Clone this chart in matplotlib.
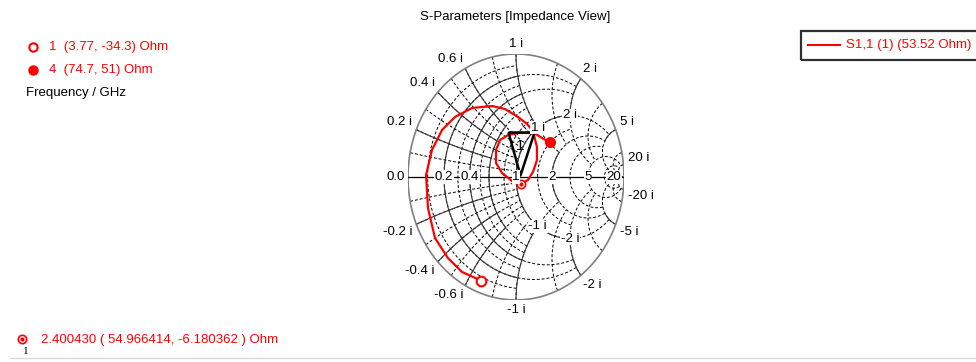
import numpy as np
import matplotlib
matplotlib.use("Agg")
import matplotlib.pyplot as plt
from matplotlib.lines import Line2D
from matplotlib.patches import Rectangle

plt.rcParams['font.family'] = ['Liberation Sans', 'DejaVu Sans']

W, H = 976, 362
RED = '#ff0000'
Z0 = 50.0

# S1,1 trace as reflection coefficient, 1 GHz -> 4 GHz
trace_re = [-0.322, -0.500, -0.630, -0.750, -0.815, -0.833, -0.778, -0.685, -0.565,
            -0.407, -0.222, -0.102, 0.019, 0.102, 0.157, 0.194, 0.194, 0.157, 0.111,
            0.051, -0.037, -0.130, -0.185, -0.185, -0.148, -0.074, 0.019, 0.167,
            0.241, 0.313]
trace_im = [-0.843, -0.772, -0.659, -0.496, -0.252, 0.016, 0.220, 0.382, 0.488,
            0.561, 0.577, 0.553, 0.488, 0.431, 0.374, 0.244, 0.138, 0.041, -0.024,
            -0.056, -0.033, 0.033, 0.114, 0.220, 0.301, 0.341, 0.358, 0.358,
            0.317, 0.281]

# markers (frequency in GHz, impedance in Ohm)
marker_ids = ['1', '4']
marker_r = [3.77, 74.7]
marker_x = [-34.3, 51]
probe_freq = 2.400430
probe_r = 54.966414
probe_x = -6.180362

# grid: (value, dashed up to, solid up to)
r_lines = [(0.1, 1, 0), (0.2, 2, 1), (0.3, 1, 0), (0.4, 2, 1), (0.5, 1, 0),
           (0.6, 1, 0.6), (0.8, 1, 0), (1, 5, 2), (1.5, 2, 0), (2, 5, 1),
           (3, 5, 0), (5, 20, 0), (10, 20, 0), (20, 20, 2)]
x_lines = [(0.1, 1, 0), (0.2, 1, 0.6), (0.3, 1, 0), (0.4, 1, 0.6), (0.5, 1, 0),
           (0.6, 1, 0.6), (0.8, 1, 0), (1, 2, 1), (1.5, 2, 0), (2, 5, 1),
           (3, 5, 0), (5, 20, 2), (10, 20, 0), (20, 1e4, 5)]

outer_labels = [0.2, 0.4, 0.6, 1, 2, 5, 20]
axis_labels = ['0.2', '0.4', '1', '2', '5', '20']
inner_labels = [1, 2]


def z2g(z):
    return (z - 1) / (z + 1)


fig = plt.figure(figsize=(W / 100, H / 100), dpi=100)
ax = fig.add_axes([408 / W, 1 - 300 / H, 216 / W, 246 / H])
ax.set_xlim(-1, 1)
ax.set_ylim(-1, 1)
ax.axis('off')

solid = dict(color='#3a3a3a', lw=0.8)
dashed = dict(color='black', lw=0.7, ls=(0, (3, 2)))

for r, dlim, slim in r_lines:
    x = np.tan(np.linspace(-np.arctan(dlim), np.arctan(dlim), 600))
    g = z2g(r + 1j * x)
    ax.plot(g.real, g.imag, **dashed)
    if slim:
        x = np.tan(np.linspace(-np.arctan(slim), np.arctan(slim), 600))
        g = z2g(r + 1j * x)
        ax.plot(g.real, g.imag, **solid)

for xv, dlim, slim in x_lines:
    for s in (1, -1):
        r = np.tan(np.linspace(0, np.arctan(dlim), 600))
        g = z2g(r + 1j * s * xv)
        ax.plot(g.real, g.imag, **dashed)
        if slim:
            r = np.tan(np.linspace(0, np.arctan(slim), 600))
            g = z2g(r + 1j * s * xv)
            ax.plot(g.real, g.imag, **solid)

t = np.linspace(0, 2 * np.pi, 800)
ax.plot(np.cos(t), np.sin(t), color='#808080', lw=1.2)
ax.plot([-1, 1], [0, 0], color='black', lw=0.9)

fs = 9.5
# outer reactance labels
for xv in outer_labels:
    for s in (1, -1):
        g = z2g(1j * s * xv)
        c, sn = g.real, g.imag
        ha = 'right' if c < -0.3 else ('left' if c > 0.3 else 'center')
        va = 'bottom' if sn > 0.05 else ('top' if sn < -0.05 else 'center')
        txt = f"{'-' if s < 0 else ''}{xv:g} i"
        ax.annotate(txt, (c, sn), xytext=(3 * c, 3 * sn), textcoords='offset points',
                    ha=ha, va=va, fontsize=fs, annotation_clip=False)
ax.annotate('0.0', (-1, 0), xytext=(-2, 0), textcoords='offset points',
            ha='right', va='center', fontsize=fs, annotation_clip=False)

# resistance labels on the real axis
for lab in axis_labels:
    g = z2g(float(lab))
    ax.text(g.real, 0, lab, ha='center', va='center', fontsize=fs,
            bbox=dict(boxstyle='square,pad=0.05', fc='white', ec='none'))

# reactance labels on the r = 1 circle
for xv in inner_labels:
    for s in (1, -1):
        g = z2g(1 + 1j * s * xv)
        ax.text(g.real, g.imag, f"{'-' if s < 0 else ''}{xv} i", ha='center',
                va='center', fontsize=fs,
                bbox=dict(boxstyle='square,pad=0.05', fc='white', ec='none'))

# trace and markers
ax.plot(trace_re, trace_im, color=RED, lw=1.6, solid_capstyle='round', clip_on=False)
gm = [z2g((r + 1j * x) / Z0) for r, x in zip(marker_r, marker_x)]
ax.plot(gm[0].real, gm[0].imag, 'o', ms=7, mfc='white', mec=RED, mew=1.5)
ax.plot(gm[1].real, gm[1].imag, 'o', ms=7, mfc=RED, mec=RED)

gp = z2g((probe_r + 1j * probe_x) / Z0)
ax.plot(gp.real, gp.imag, 'o', ms=6, mfc='white', mec=RED, mew=1.2)
ax.plot(gp.real, gp.imag, 'o', ms=2, mfc=RED, mec=RED)
tri = [(-13, 52), (13, 52), (-1, 9), (-13, 52)]
ax.plot(gp.real, gp.imag, marker=tri, ms=104 * 0.72, mfc='none', mec='black', mew=1.8)
ax.annotate('1', (gp.real, gp.imag), xytext=(-1, 27), textcoords='offset points',
            ha='center', va='center', fontsize=11)


def fx(px):
    return px / W


def fy(py):
    return 1 - py / H


fig.text(fx(515), fy(17), 'S-Parameters [Impedance View]', ha='center', va='center', fontsize=fs)

# marker list, top left
fig.add_artist(Line2D([fx(33)], [fy(47)], marker='o', ms=6, mfc='white', mec=RED, mew=1.5))
fig.add_artist(Line2D([fx(33)], [fy(70)], marker='o', ms=6.5, mfc=RED, mec=RED))
for i, (mid, r, x) in enumerate(zip(marker_ids, marker_r, marker_x)):
    fig.text(fx(49), fy(47 + 23 * i), f"{mid}  ({r:g}, {x:g}) Ohm", color=RED,
             ha='left', va='center', fontsize=fs)
fig.text(fx(26), fy(93), 'Frequency / GHz', ha='left', va='center', fontsize=fs)

# legend box, top right
fig.add_artist(Rectangle((fx(801), fy(60)), fx(200), 29 / H, fill=False,
                         ec='#303030', lw=1.6, transform=fig.transFigure))
fig.add_artist(Line2D([fx(808), fx(840)], [fy(45), fy(45)], color=RED, lw=1.5))
fig.text(fx(846), fy(45), 'S1,1 (1) (53.52 Ohm)', color=RED, ha='left', va='center', fontsize=fs)

# probe readout, bottom
fig.add_artist(Line2D([fx(22)], [fy(339)], marker='o', ms=6, mfc='white', mec=RED, mew=1.2))
fig.add_artist(Line2D([fx(22)], [fy(339)], marker='o', ms=2, mfc=RED, mec=RED))
fig.text(fx(26), fy(351), '1', fontsize=8, family='Liberation Serif', ha='center', va='center')
fig.text(fx(41), fy(340), f"{probe_freq:.6f} ( {probe_r:.6f}, {probe_x:.6f} ) Ohm",
         color=RED, ha='left', va='center', fontsize=fs)
fig.add_artist(Line2D([fx(10), 1], [fy(358), fy(358)], color='#d8d8d8', lw=1))

fig.savefig('out.png', dpi=100)
